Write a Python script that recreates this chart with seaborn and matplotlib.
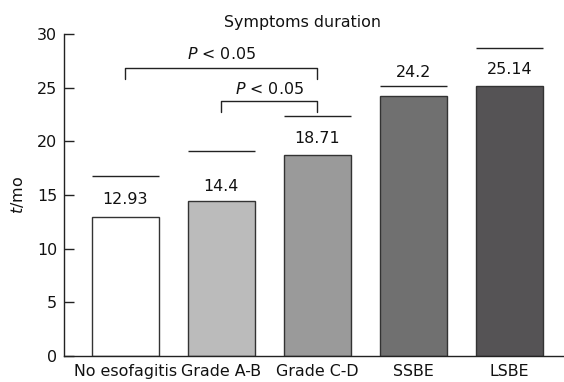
import matplotlib
matplotlib.use("Agg")
import matplotlib.pyplot as plt
import seaborn as sns
import pandas as pd

categories = ["No esofagitis", "Grade A-B", "Grade C-D", "SSBE", "LSBE"]
values = [12.93, 14.4, 18.71, 24.2, 25.14]
upper = [16.77, 19.13, 22.33, 25.16, 28.73]
value_label_y = [14.54, 15.8, 20.25, 26.4, 26.65]
bar_colors = ["#ffffff", "#bbbbbb", "#9a9a9a", "#707070", "#555355"]
brackets = [  # (start idx, end idx, bar y, tick bottom y, text y)
    (0, 2, 26.82, 25.82, 28.1),
    (1, 2, 23.73, 22.7, 24.85),
]
bracket_text = "$P$ < 0.05"
yticks = [0, 5, 10, 15, 20, 25, 30]

sns.set_theme(style="white")
plt.rcParams["font.family"] = ["DejaVu Sans"]
FS = 11.4

df = pd.DataFrame({"cat": categories, "val": values})
fig = plt.figure(figsize=(5.64, 3.82), dpi=100)
ax = fig.add_axes([0.1135, 0.068, 0.885, 0.843])

sns.barplot(data=df, x="cat", y="val", hue="cat", palette=bar_colors,
            width=0.70, edgecolor="#333333", linewidth=1.0, legend=False,
            saturation=1, ax=ax)

for i, (u, ly, v) in enumerate(zip(upper, value_label_y, values)):
    ax.hlines(u, i - 0.35, i + 0.35, color="#222222", lw=1.0)
    ax.text(i, ly, f"{v:g}", ha="center", va="center", fontsize=FS, color="#111111")

for s, e, yb, yt, ty in brackets:
    ax.plot([s, s, e, e], [yt, yb, yb, yt], color="#222222", lw=1.0)
    ax.text((s + e) / 2, ty, bracket_text, ha="center", va="center",
            fontsize=FS, color="#111111")

ax.set_xlim(-0.6375, 4.557)
ax.set_ylim(0, 30)
ax.set_yticks(yticks)
ax.set_xlabel("")
ax.set_ylabel("$t$/mo", fontsize=FS, color="#111111")
ax.yaxis.set_label_coords(-0.077, 0.5)
ax.tick_params(axis="y", direction="in", length=7, width=1, color="#222222",
               labelsize=FS, labelcolor="#111111", pad=5, left=True)
ax.tick_params(axis="x", length=0, labelsize=FS, labelcolor="#111111", pad=6)
for side in ["top", "right"]:
    ax.spines[side].set_visible(False)
for side in ["left", "bottom"]:
    ax.spines[side].set_color("#222222")
    ax.spines[side].set_linewidth(1.0)

fig.text(302 / 564, 1 - 23 / 382, "Symptoms duration", ha="center", va="center",
         fontsize=FS, color="#111111")

fig.savefig("out.png", dpi=100)
